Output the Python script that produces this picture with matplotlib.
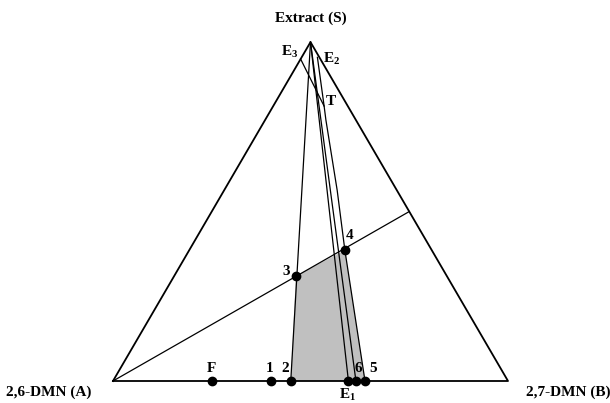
import matplotlib.pyplot as plt
import numpy as np

# compositions as mass fractions (B, S); A = 1 - B - S
H = 0.858  # height of the drawn triangle (the original is a bit squashed)

feed_labels = ['F', '1', '2', 'E$_1$', '6', '5']
feed_B = [0.25, 0.40, 0.45, 0.596, 0.615, 0.638]

mix_labels = ['3', '4']
mix_B = [0.308, 0.394]
mix_S = [0.310, 0.386]

# operating line from A to the midpoint of BS
op_B = [0.0, 0.50]
op_S = [0.0, 0.50]

# extract curve through T up to E2
curve_B = [0.638, 0.394, 0.286, 0.154, 0.129, 0.040]
curve_S = [0.0, 0.386, 0.563, 0.770, 0.811, 0.955]

# E3 -> T
e3_B = [0.0, 0.129]
e3_S = [0.950, 0.811]

# rays from the solvent apex
ray_B = [0.45, 0.596, 0.615]

plt.rcParams['mathtext.fontset'] = 'custom'
plt.rcParams['mathtext.rm'] = 'Liberation Serif:bold'
plt.rcParams['mathtext.it'] = 'Liberation Serif:bold'
plt.rcParams['mathtext.bf'] = 'Liberation Serif:bold'


def xy(b, s):
    b = np.asarray(b, dtype=float)
    s = np.asarray(s, dtype=float)
    return b + s / 2, s * H


fig = plt.figure(figsize=(6.1, 4.03), dpi=100)
ax = fig.add_axes([0, 0, 1, 1])
ax.set_xlim(-113 / 395, 497 / 395)
ax.set_ylim(-22 / 395, 381 / 395)
ax.axis('off')

font = dict(family='Liberation Serif', fontweight='bold', fontsize=11)

# shaded region 2-3-4-5
sx, sy = xy([feed_B[2], mix_B[0], mix_B[1], feed_B[5]], [0, mix_S[0], mix_S[1], 0])
ax.fill(sx, sy, color='#c0c0c0', lw=0, zorder=1)

# triangle
tx, ty = xy([0, 1, 0, 0], [0, 0, 1, 0])
ax.plot(tx, ty, color='black', lw=1.3, zorder=3)

x, y = xy(op_B, op_S)
ax.plot(x, y, color='black', lw=0.9, zorder=3)

for b in ray_B:
    x, y = xy([0, b], [1, 0])
    ax.plot(x, y, color='black', lw=0.9, zorder=3)

x, y = xy(curve_B, curve_S)
ax.plot(x, y, color='black', lw=0.9, zorder=3)

x, y = xy(e3_B, e3_S)
ax.plot(x, y, color='black', lw=0.9, zorder=3)

# points
x, y = xy(feed_B, np.zeros(len(feed_B)))
ax.plot(x, y, 'o', color='black', ms=6, zorder=4)
x, y = xy(mix_B, mix_S)
ax.plot(x, y, 'o', color='black', ms=6, zorder=4)

# labels
off = {'F': (0, 13), '1': (-1, 13), '2': (-6, 13), 'E$_1$': (-1, -14),
       '6': (2, 12), '5': (8, 12)}
for lab, b in zip(feed_labels, feed_B):
    px, py = xy(b, 0)
    ax.annotate(lab, (px, py), xytext=off[lab], textcoords='offset pixels',
                ha='center', va='center', **font)

ax.annotate('3', xy(mix_B[0], mix_S[0]), xytext=(-10, 4), textcoords='offset pixels',
            ha='center', va='center', **font)
ax.annotate('4', xy(mix_B[1], mix_S[1]), xytext=(5, 15), textcoords='offset pixels',
            ha='center', va='center', **font)

ax.text(0.5, 1.0 * H + 24 / 395, 'Extract (S)', ha='center', va='center', **font)
ax.text(-64 / 395, -11 / 395, '2,6-DMN (A)', ha='center', va='center', **font)
ax.text(455 / 395, -11 / 395, '2,7-DMN (B)', ha='center', va='center', **font)

ax.annotate('E$_3$', xy(e3_B[0], e3_S[0]), xytext=(-11, 7), textcoords='offset pixels',
            ha='center', va='center', **font)
ax.annotate('E$_2$', xy(curve_B[-1], curve_S[-1]), xytext=(14, -2), textcoords='offset pixels',
            ha='center', va='center', **font)
ax.annotate('T', xy(curve_B[4], curve_S[4]), xytext=(7, 5), textcoords='offset pixels',
            ha='center', va='center', **font)

fig.savefig('out.png', dpi=100)
